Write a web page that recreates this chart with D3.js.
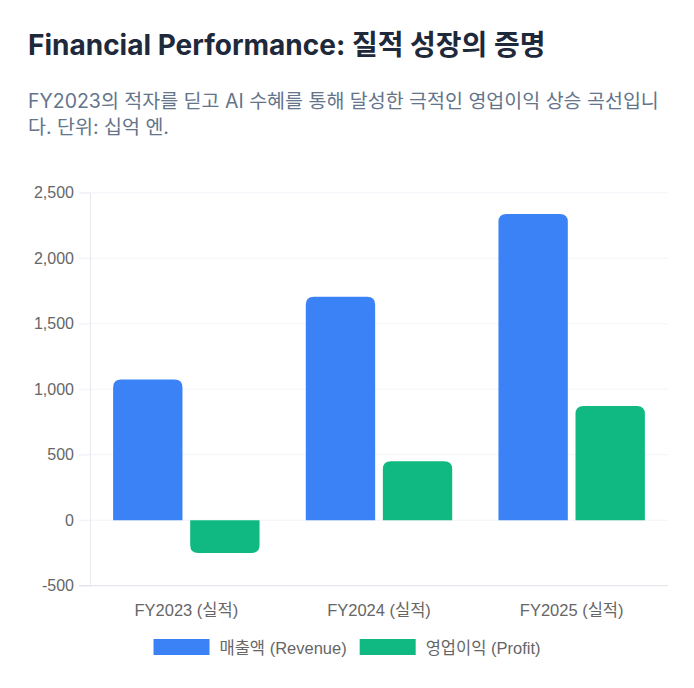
<!DOCTYPE html>
<html>
<head>
<meta charset="utf-8">
<title>Financial Performance</title>
<script src="https://cdn.jsdelivr.net/npm/d3@7"></script>
<style>
  body { margin: 0; background: #fff; }
  svg { display: block; background: #fff; }
  .title { font-family: Inter, "Noto Sans CJK KR", sans-serif; font-weight: 700; fill: #1e293b; }
  .sub { font-family: Inter, "Noto Sans CJK KR", sans-serif; fill: #64748b; }
  .tick text, .lbl { font-family: "Liberation Sans", Arial, "Noto Sans CJK KR", sans-serif; fill: #666; }
</style>
</head>
<body>
<script>
  // data (billion yen)
  var categories = ["FY2023 (실적)", "FY2024 (실적)", "FY2025 (실적)"];
  var seriesNames = ["매출액 (Revenue)", "영업이익 (Profit)"];
  var revenue = [1075, 1705, 2337];
  var profit = [-250, 450, 872];
  var yTicks = [-500, 0, 500, 1000, 1500, 2000, 2500];
  var colors = ["#3b82f6", "#10b981"];

  var width = 694, height = 688;
  var plotLeft = 90, plotRight = 668, plotTop = 192.7, plotBottom = 585.7;

  var svg = d3.select("body").append("svg").attr("width", width).attr("height", height);

  // title + subtitle
  svg.append("text").attr("class", "title").attr("x", 28).attr("y", 55)
    .style("font-size", "28px").text("Financial Performance: 질적 성장의 증명");
  var sub = svg.append("text").attr("class", "sub").style("font-size", "19.5px");
  sub.append("tspan").attr("x", 28).attr("y", 108)
    .text("FY2023의 적자를 딛고 AI 수혜를 통해 달성한 극적인 영업이익 상승 곡선입니");
  sub.append("tspan").attr("x", 28).attr("y", 134).text("다. 단위: 십억 엔.");

  var y = d3.scaleLinear().domain([-500, 2500]).range([plotBottom, plotTop]);
  var x = d3.scaleBand().domain(categories).range([plotLeft, plotRight]).paddingInner(0.2).paddingOuter(0.1);
  var xs = d3.scaleBand().domain(seriesNames).range([0, x.bandwidth()]).paddingInner(0.1).paddingOuter(0.05);

  // gridlines
  svg.append("g").selectAll("line").data(yTicks.filter(function(d) { return d > -500; })).enter()
    .append("line")
    .attr("x1", plotLeft - 11).attr("x2", plotRight)
    .attr("y1", function(d) { return y(d); }).attr("y2", function(d) { return y(d); })
    .attr("stroke", "#f1f4f9").attr("stroke-width", 1);

  // y axis (hyphen minus like the original)
  var fmt = d3.formatLocale({ decimal: ".", thousands: ",", grouping: [3], currency: ["", ""], minus: "-" }).format(",");
  var yAxis = svg.append("g").attr("transform", "translate(" + plotLeft + ",0)")
    .call(d3.axisLeft(y).tickValues(yTicks).tickSize(11).tickPadding(5).tickFormat(fmt));
  yAxis.select(".domain").attr("stroke", "#e8e8ee");
  yAxis.selectAll(".tick line").attr("stroke", "#f1f4f9");
  yAxis.selectAll(".tick text").style("font-size", "16px");

  // x axis baseline
  svg.append("line").attr("x1", plotLeft - 11).attr("x2", plotRight).attr("y1", plotBottom).attr("y2", plotBottom)
    .attr("stroke", "#e0e2e8");

  svg.append("g").selectAll("text").data(categories).enter().append("text")
    .attr("class", "lbl").style("font-size", "16.5px")
    .attr("x", function(d) { return x(d) + x.bandwidth() / 2; })
    .attr("y", 616).attr("text-anchor", "middle").text(function(d) { return d; });

  // bar with rounded end away from zero
  function barPath(x0, w, v) {
    var y0 = y(0), y1 = y(v), r = Math.min(8, Math.abs(y1 - y0));
    var s = v >= 0 ? 1 : -1;
    return "M" + x0 + "," + y0 + "V" + (y1 + s * r) + "Q" + x0 + "," + y1 + " " + (x0 + r) + "," + y1 +
      "H" + (x0 + w - r) + "Q" + (x0 + w) + "," + y1 + " " + (x0 + w) + "," + (y1 + s * r) + "V" + y0 + "Z";
  }

  var series = [revenue, profit];
  series.forEach(function(vals, si) {
    svg.append("g").selectAll("path").data(vals).enter().append("path")
      .attr("d", function(d, i) { return barPath(x(categories[i]) + xs(seriesNames[si]), xs.bandwidth(), d); })
      .attr("fill", colors[si]);
  });

  // legend
  var boxW = 56, boxH = 16, gapText = 10, gapItem = 13;
  var legend = svg.append("g");
  var items = legend.selectAll("g").data(seriesNames).enter().append("g");
  items.append("rect").attr("width", boxW).attr("height", boxH).attr("y", 639)
    .attr("fill", function(d, i) { return colors[i]; });
  items.append("text").attr("class", "lbl").style("font-size", "16.5px")
    .attr("x", boxW + gapText).attr("y", 653.5).text(function(d) { return d; });
  var widths = [];
  items.each(function() { widths.push(boxW + gapText + d3.select(this).select("text").node().getComputedTextLength()); });
  var total = d3.sum(widths) + gapItem * (widths.length - 1);
  var cx = width / 2 - total / 2;
  items.attr("transform", function(d, i) {
    var off = cx + d3.sum(widths.slice(0, i)) + gapItem * i;
    return "translate(" + off + ",0)";
  });
</script>
</body>
</html>
